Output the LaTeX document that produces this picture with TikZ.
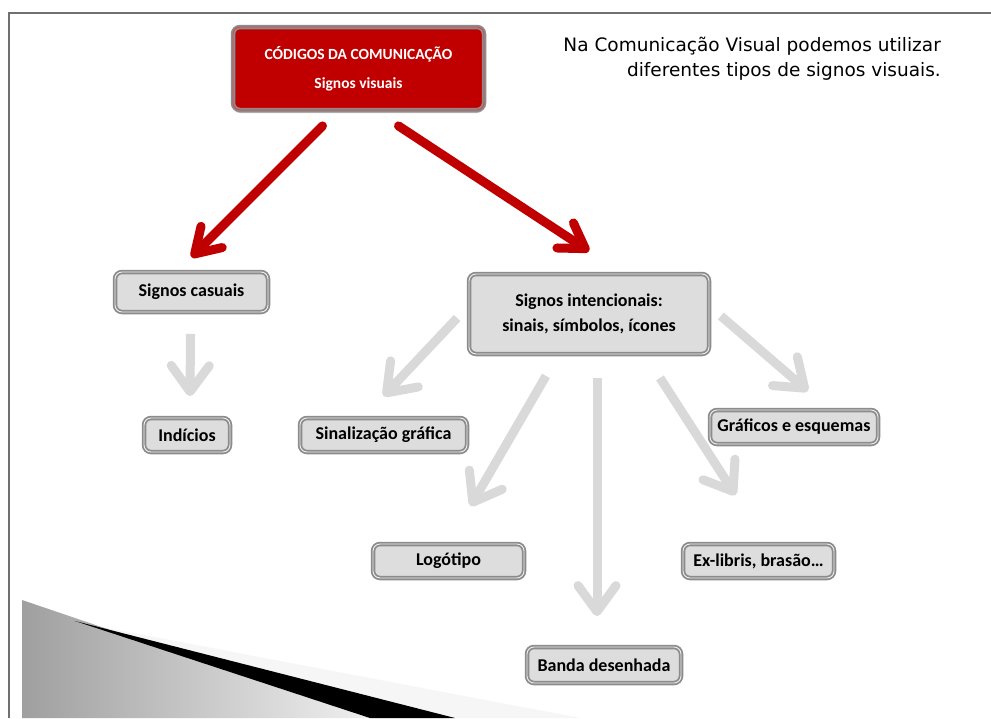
\documentclass[tikz,border=0pt]{standalone}
\usepackage{fontspec}
\setmainfont{Carlito}
\newfontfamily\notefont{DejaVu Sans}
\usepackage{tikz}
\usetikzlibrary{arrows.meta,shadows}
\definecolor{codred}{HTML}{C00000}
\definecolor{boxfill}{HTML}{DDDDDD}
\definecolor{boxline}{HTML}{8C8C8C}
\definecolor{lightarrow}{HTML}{D9D9D9}

\begin{document}
\begin{tikzpicture}[x=1pt,y=-1pt]
            \tikzstyle{every node}+=[inner sep=0pt]
            \tikzstyle{signbox}=[draw=boxline, line width=1.8pt, double=boxfill!50!white, double distance=0.9pt, fill=boxfill, rounded corners=7pt, font=\bfseries\fontsize{18}{22}\selectfont]
            \tikzstyle{redarrow}=[draw=codred, line width=9pt, line cap=round, -{Straight Barb[length=24pt,width=30pt,line cap=round,round]}]
            \tikzstyle{greyarrow}=[draw=lightarrow, line width=9pt, -{Straight Barb[length=26pt,width=38pt,line cap=round,round]}]
            \useasboundingbox (0,0) rectangle (991,718);
            \fill [white] (0,0) rectangle (991,718);
            % slide frame
            \draw [boxline!80!black, line width=2pt] (9,718) -- (9,13) -- (991,13);
            % corner decoration
            \fill [gray!7] (75,622) -- (580,718) -- (370,718) -- cycle;
            \shade [left color=gray!75, right color=gray!12] (22,600) -- (370,718) -- (22,718) -- cycle;
            \fill [black] (75,621) -- (455,718) -- (370,718) -- cycle;
            % boxes
            \node [signbox, draw=boxline, fill=codred, double=codred!70!white, text=white, font=\bfseries\fontsize{15.5}{29}\selectfont, align=center, minimum width=251pt, minimum height=83pt, drop shadow={shadow xshift=0pt, shadow yshift=-3pt, fill=gray!60, opacity=0.8}] (tb) at (358.5,68.5) {CÓDIGOS DA COMUNICAÇÃO\\Signos visuais};
            \node [signbox, minimum width=153pt, minimum height=40pt] (casuais) at (191.5,292) {Signos casuais};
            \node [signbox, align=center, font=\bfseries\fontsize{18}{25}\selectfont, minimum width=240pt, minimum height=80pt] (intenc) at (589,314) {Signos intencionais:\\sinais, símbolos, ícones};
            \node [signbox, minimum width=86pt, minimum height=34pt] (indicios) at (187,435) {Indícios};
            \node [signbox, minimum width=167pt, minimum height=34pt] (sinal) at (383.5,435) {Sinalização gráfica};
            \node [signbox, minimum width=168pt, minimum height=34pt] (graficos) at (794,427) {Gráficos e esquemas};
            \node [signbox, minimum width=151pt, minimum height=34pt] (logo) at (448.5,561) {Logótipo};
            \node [signbox, minimum width=151pt, minimum height=34pt] (exlibris) at (758.5,561) {Ex-libris, brasão…};
            \node [signbox, minimum width=154pt, minimum height=36pt] (banda) at (604,665) {Banda desenhada};
            \node [anchor=north east, align=right, font=\notefont\fontsize{18.5}{25}\selectfont] (nota) at (941,37) {Na Comunicação Visual podemos utilizar\\diferentes tipos de signos visuais.};
            % arrows
            \draw [redarrow] ([xshift=-36pt,yshift=-15pt]tb.south) -- ([yshift=14pt]casuais.north);
            \draw [redarrow] ([xshift=40pt,yshift=-15pt]tb.south) -- ([yshift=22pt]intenc.north);
            \draw [greyarrow] ([xshift=-1pt,yshift=-21pt]casuais.south) -- ([xshift=3pt,yshift=21pt]indicios.north);
            \draw [greyarrow] ([xshift=-11pt,yshift=-4pt]intenc.west) -- ([yshift=21pt]sinal.north);
            \draw [greyarrow] ([xshift=-43pt,yshift=-21pt]intenc.south) -- ([xshift=22pt,yshift=37pt]logo.north);
            \draw [greyarrow] ([xshift=8pt,yshift=-23pt]intenc.south) -- ([xshift=-7pt,yshift=30pt]banda.north);
            \draw [greyarrow] ([xshift=71pt,yshift=-23pt]intenc.south) -- ([xshift=-23pt,yshift=48pt]exlibris.north);
            \draw [greyarrow] ([xshift=11pt,yshift=-2pt]intenc.east) -- ([xshift=14pt,yshift=18pt]graficos.north);
        \end{tikzpicture}
\end{document}
